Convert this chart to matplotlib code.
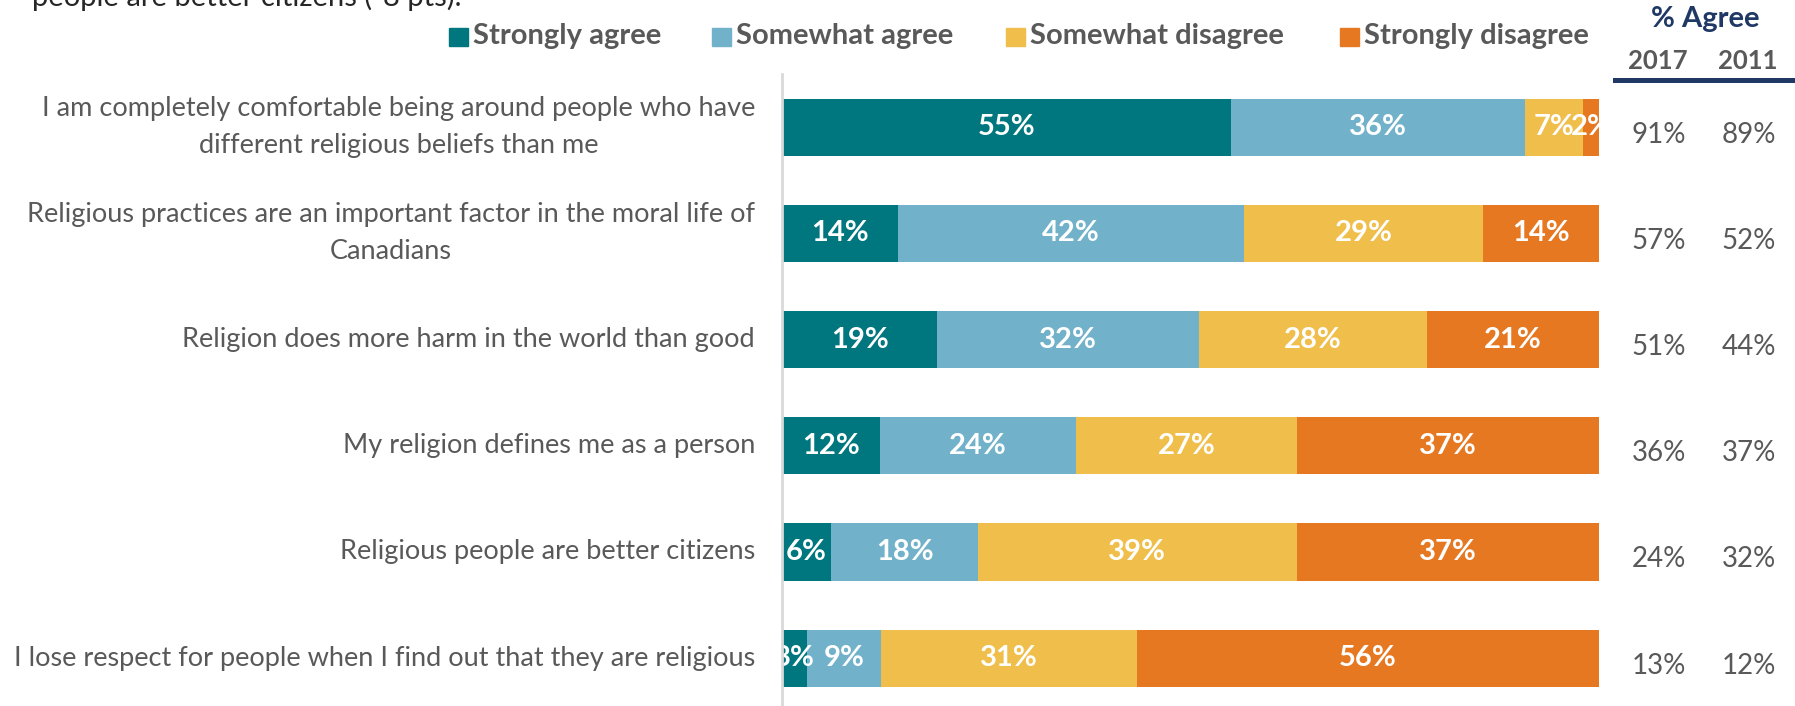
import numpy as np
import matplotlib
matplotlib.use("Agg")
import matplotlib.pyplot as plt
from matplotlib.patches import Rectangle

plt.rcParams['font.family'] = ['Lato', 'DejaVu Sans']

statements = [
    "I am completely comfortable being around people who have\ndifferent religious beliefs than me",
    "Religious practices are an important factor in the moral life of\nCanadians",
    "Religion does more harm in the world than good",
    "My religion defines me as a person",
    "Religious people are better citizens",
    "I lose respect for people when I find out that they are religious",
]
series_names = ["Strongly agree", "Somewhat agree", "Somewhat disagree", "Strongly disagree"]
strongly_agree = [55, 14, 19, 12, 6, 3]
somewhat_agree = [36, 42, 32, 24, 18, 9]
somewhat_disagree = [7, 29, 28, 27, 39, 31]
strongly_disagree = [2, 14, 21, 37, 37, 56]
agree_2017 = [91, 57, 51, 36, 24, 13]
agree_2011 = [89, 52, 44, 37, 32, 12]

colors = ["#00767E", "#71B1C9", "#F0BE4A", "#E67822"]
grey = "#595959"
navy = "#1F3864"

W, H = 1795, 706
fig = plt.figure(figsize=(W / 100, H / 100), dpi=100)
ax = fig.add_axes([782 / W, 0, (1599 - 782) / W, 1 - 74 / H])

series = np.array([strongly_agree, somewhat_agree, somewhat_disagree, strongly_disagree], dtype=float)
totals = series.sum(axis=0)
widths = series / totals * 100  # rows end flush at 100 like the original
y = np.arange(len(statements))

left = np.zeros(len(statements))
for vals, w, c in zip(series, widths, colors):
    ax.barh(y, w, left=left, height=0.537, color=c, zorder=2)
    for yi, l, wi, v in zip(y, left, w, vals):
        ax.text(l + wi / 2, yi, f"{int(v)}%", ha='center', va='center',
                color='white', fontsize=21, fontweight='bold', zorder=3)
    left += w

ax.set_xlim(0, 100)
ax.set_ylim(5.45, -0.5)
ax.set_xticks([])
ax.set_yticks([])
for s in ['top', 'right', 'bottom']:
    ax.spines[s].set_visible(False)
ax.spines['left'].set_color('#D9D9D9')
ax.spines['left'].set_linewidth(2)
ax.spines['left'].set_zorder(4)

# statement labels
lab_tr = matplotlib.transforms.blended_transform_factory(fig.transFigure, ax.transData)
for yi, s in zip(y, statements):
    ax.text(755 / W, yi, s, transform=lab_tr, ha='right', va='center',
            multialignment='center', fontsize=19.5, color=grey, linespacing=1.6)

# % agree columns
for yi, a, b in zip(y, agree_2017, agree_2011):
    ax.text(1659 / W, yi + 0.07, f"{a}%", transform=lab_tr, ha='center', va='center',
            fontsize=20, color=grey)
    ax.text(1749 / W, yi + 0.07, f"{b}%", transform=lab_tr, ha='center', va='center',
            fontsize=20, color=grey)

fig.text(1705 / W, 1 - 19 / H, "% Agree", ha='center', va='center',
         fontsize=21, fontweight='bold', color=navy)
fig.text(1658 / W, 1 - 61 / H, "2017", ha='center', va='center',
         fontsize=18.5, fontweight='bold', color=grey)
fig.text(1748 / W, 1 - 61 / H, "2011", ha='center', va='center',
         fontsize=18.5, fontweight='bold', color=grey)
fig.add_artist(plt.Line2D([1615 / W, 1792 / W], [1 - 79.5 / H, 1 - 79.5 / H],
                          color=navy, linewidth=3.6, transform=fig.transFigure))

# legend
leg_x = [449, 712, 1006, 1340]
for lx, name, c in zip(leg_x, series_names, colors):
    fig.add_artist(Rectangle((lx / W, 1 - 46 / H), 19 / W, 18 / H, color=c,
                             transform=fig.transFigure))
    fig.text((lx + 24) / W, 1 - 36 / H, name, ha='left', va='center',
             fontsize=21, fontweight='bold', color=grey)

# cut-off note at the top
fig.text(32 / W, 1 - 6 / H, "people are better citizens (-8 pts).", ha='left',
         va='baseline', fontsize=21, color='#262626')

fig.savefig("out.png", dpi=100)
